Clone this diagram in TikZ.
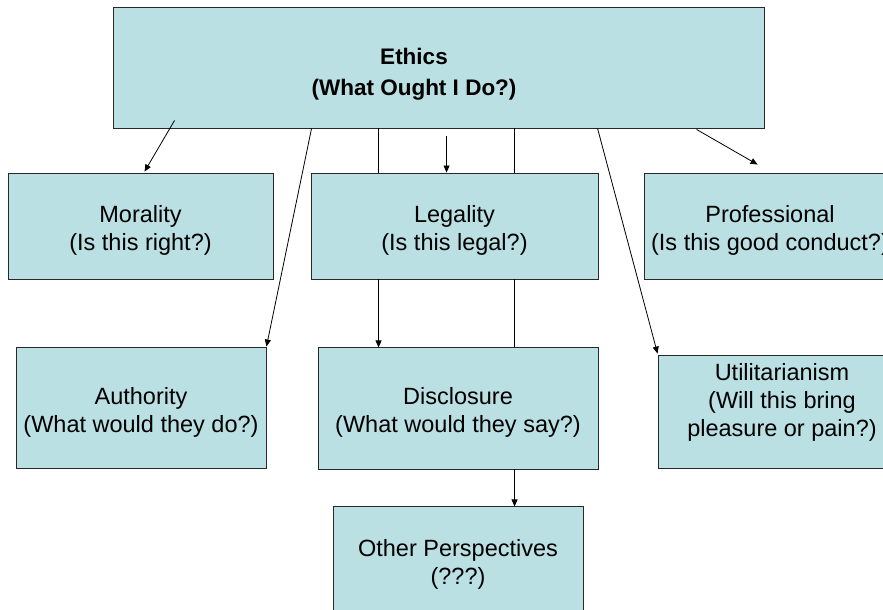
\documentclass[tikz,border=0pt]{standalone}
\usepackage{fontspec}
\setmainfont{Liberation Sans}
\usetikzlibrary{arrows.meta,calc}
\definecolor{boxfill}{RGB}{187,224,227}
\definecolor{edge}{RGB}{40,40,40}
\begin{document}
\begin{tikzpicture}[x=1pt,y=-1pt,
  box/.style={draw=edge, fill=boxfill, line width=0.9pt, inner sep=0pt},
  txt/.style={inner sep=0pt, align=center, font=\fontsize{23.5}{28}\selectfont},
  conn/.style={draw=black, line width=0.8pt},
  arr/.style={conn, -{Triangle[length=7pt,width=6pt]}},
]
\useasboundingbox (0,0) rectangle (883,610);

\node[box, minimum width=651pt, minimum height=121pt] (ethics) at (438.5,67.5) {};
\node[txt, font=\fontsize{22.5}{31}\selectfont\bfseries] (ethicst) at (414,74) {Ethics\\(What Ought I Do?)};

\node[box, minimum width=265pt, minimum height=106pt] (morality) at (140.5,226) {};
\node[txt] (moralityt) at (140.5,230) {Morality\\(Is this right?)};
\node[box, minimum width=287pt, minimum height=106pt] (legality) at (454.5,226) {};
\node[txt] (legalityt) at (454.5,230) {Legality\\(Is this legal?)};
\node[box, minimum width=252pt, minimum height=106pt] (professional) at (770,226) {};
\node[txt] (professionalt) at (770,230) {Professional\\(Is this good conduct?)};

\node[box, minimum width=250pt, minimum height=121pt] (authority) at (141,407.5) {};
\node[txt] (authorityt) at (141,412) {Authority\\(What would they do?)};
\node[box, minimum width=280pt, minimum height=122pt] (disclosure) at (458,408) {};
\node[txt] (disclosuret) at (458,412.5) {Disclosure\\(What would they say?)};
\node[box, minimum width=248pt, minimum height=113pt] (util) at (782,411.5) {};
\node[txt] (utilt) at (782,402) {Utilitarianism\\(Will this bring\\pleasure or pain?)};

\node[box, minimum width=250pt, minimum height=114pt] (other) at (458,563) {};
\node[txt] (othert) at (458,564) {Other Perspectives\\(???)};

% connectors from Ethics
\draw[arr] ($(ethics.south west)+(62,-8)$) -- ($(morality.north west)+(137,-1)$);
\draw[arr] ($(ethics.south west)+(199,0)$) -- (authority.north east);
\draw[conn] ($(legality.north west)+(68,0)$) -- ($(legality.north west)+(68,-45)$);
\draw[arr] ($(legality.north west)+(136,-37)$) -- ($(legality.north west)+(136,0)$);
\draw[conn] ($(legality.north west)+(204,0)$) -- ($(legality.north west)+(204,-45)$);
\draw[arr] ($(ethics.south west)+(485,0)$) -- ($(util.north west)+(0,-1)$);
\draw[arr] ($(ethics.south west)+(584,1)$) -- ($(professional.north west)+(114,-8)$);

% connectors below Legality
\draw[arr] ($(legality.south west)+(68,0)$) -- ($(legality.south west)+(68,68)$);
\draw[conn] ($(legality.south west)+(204,0)$) -- ($(legality.south west)+(204,68)$);
\draw[arr] ($(disclosure.south west)+(197,0)$) -- ($(disclosure.south west)+(197,37)$);
\end{tikzpicture}
\end{document}
